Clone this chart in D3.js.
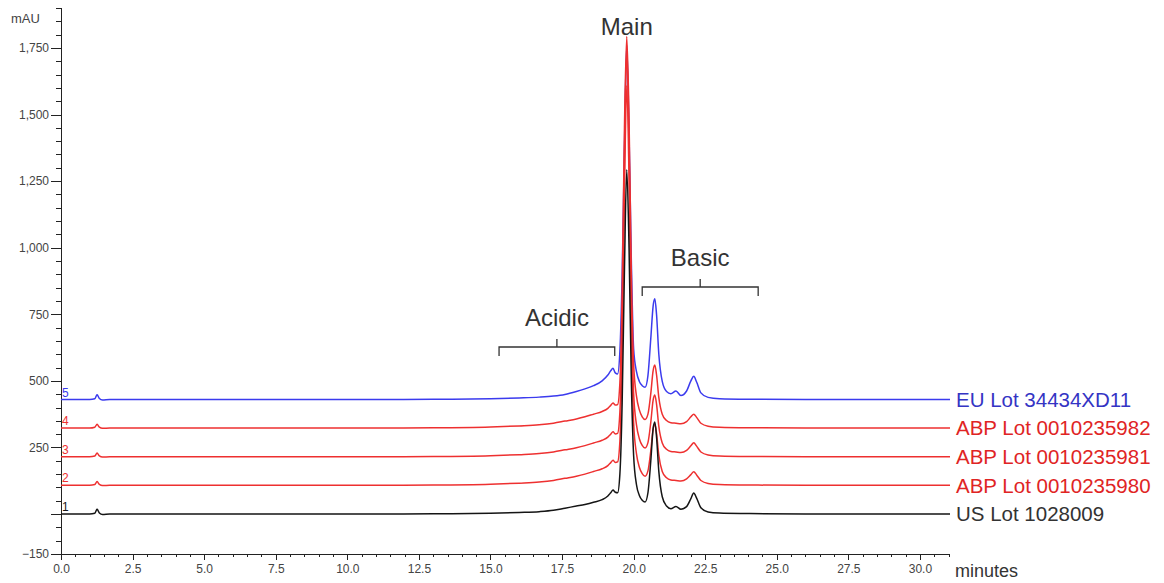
<!DOCTYPE html>
<html lang="en">
<head>
<meta charset="utf-8">
<title>Charge variant overlay</title>
<script src="https://cdn.jsdelivr.net/npm/d3@7"></script>
<style>
body {
  margin: 0;
  background: #fff;
  font-family: Arial, 'Liberation Sans', sans-serif;
}
.axis path, .axis line {
  stroke: #222;
  stroke-width: 1;
  shape-rendering: crispEdges;
}
.axis text {
  font-family: Arial, 'Liberation Sans', sans-serif;
  font-size: 12px;
  fill: #444;
}
.trace {
  fill: none;
  stroke-width: 1.5;
  stroke-linejoin: round;
}
.bracket {
  fill: none;
  stroke: #333;
  stroke-width: 1.3;
}
.note {
  font-size: 24px;
  fill: #333;
  text-anchor: middle;
}
</style>
</head>
<body>
<div id="chart"></div>
<script>

// retention time grid (minutes), denser around the peaks
var minutes = [0, 1.0, 1.18, 1.26, 1.34, 1.45, 1.7, 3, 6, 10, 13, 15, 16, 16.7, 17.2, 17.6,
  18.0, 18.3, 18.6, 18.9, 19.1, 19.2, 19.28, 19.36, 19.44, 19.52, 19.6, 19.68, 19.76, 19.84,
  19.92, 20.0, 20.1, 20.2, 20.3, 20.4, 20.5, 20.6, 20.68, 20.74, 20.8, 20.88, 21.0, 21.15,
  21.3, 21.48, 21.65, 21.85, 22.0, 22.1, 22.2, 22.35, 22.6, 23.0, 24.0, 26.0, 28.0, 31.05];

// signal above each trace's own baseline (mAU)
var usLot = [0, 0, 3, 18, 4, -2, 0, 0, 0, 0, 1, 3, 6, 9, 14, 22,
  30, 36, 44, 54, 68, 80, 90, 82, 80, 150, 420, 920, 1293, 1000,
  500, 220, 110, 70, 52, 45, 80, 200, 320, 346, 290, 160, 65, 30,
  20, 28, 18, 28, 58, 79, 60, 24, 8, 4, 2, 0, 0, 0];
var abp980 = [0, 0, 3, 14, 3, -1, 0, 0, 0, 0, 1, 4, 8, 12, 18, 26,
  34, 42, 52, 62, 74, 85, 94, 86, 88, 165, 500, 1100, 1500, 1150,
  570, 235, 118, 68, 44, 34, 54, 130, 210, 230, 196, 112, 52, 28,
  20, 18, 16, 24, 40, 51, 39, 18, 7, 3, 1, 0, 0, 0];
var abp981 = [0, 0, 3, 14, 3, -1, 0, 0, 0, 0, 1, 4, 8, 12, 18, 26,
  34, 42, 52, 62, 74, 85, 94, 86, 88, 168, 505, 1120, 1520, 1160,
  575, 238, 120, 68, 43, 33, 53, 130, 212, 232, 198, 114, 52, 28,
  20, 18, 16, 24, 41, 53, 40, 18, 7, 3, 1, 0, 0, 0];
var abp982 = [0, 0, 3, 14, 3, -1, 0, 0, 0, 0, 1, 4, 8, 12, 18, 26,
  34, 42, 52, 62, 74, 85, 94, 86, 88, 170, 510, 1130, 1470, 1160,
  580, 240, 120, 68, 42, 32, 52, 130, 215, 237, 200, 115, 52, 28,
  20, 18, 16, 24, 42, 52, 40, 18, 7, 3, 1, 0, 0, 0];
var euLot = [0, 0, 3, 18, 4, -2, 0, 0, 0, 0, 1, 3, 6, 9, 13, 19,
  30, 40, 52, 70, 92, 108, 117, 100, 96, 180, 470, 950, 1330, 1000,
  520, 190, 105, 68, 52, 46, 90, 230, 350, 378, 320, 170, 68, 30,
  22, 32, 15, 32, 70, 87, 66, 25, 8, 3, 1, 0, 0, 0];

var traceNames = ["US Lot 1028009", "ABP Lot 0010235980", "ABP Lot 0010235981",
  "ABP Lot 0010235982", "EU Lot 34434XD11"];
var traceNumbers = ["1", "2", "3", "4", "5"];
var traceOffsets = [0, 108, 215, 323, 430];   // stacked baselines (mAU)
var traceValues = [usLot, abp980, abp981, abp982, euLot];
var traceColors = ["#151515", "#ee3030", "#ee3030", "#ee3030", "#3b3bee"];
var labelColors = ["#333333", "#e02424", "#e02424", "#e02424", "#3434c4"];

var yLabelTicks = [-150, 250, 500, 750, 1000, 1250, 1500, 1750];
var xLabelTicks = [0, 2.5, 5, 7.5, 10, 12.5, 15, 17.5, 20, 22.5, 25, 27.5, 30];

// peak group annotations: [label, start, end] in minutes
var groups = [["Acidic", 15.3, 19.34], ["Basic", 20.3, 24.35]];

var w = 1164,
    h = 583;

var x = d3.scaleLinear().domain([0, 31.05]).range([61, 950]);
var y = d3.scaleLinear().domain([-150, 1900]).range([554, 8]);

var svg = d3.select("#chart")
  .append("svg")
  .attr("width", w)
  .attr("height", h);

// y axis: minor ticks every 50, labelled ticks every 250
svg.append("g")
  .attr("class", "axis")
  .attr("transform", "translate(61,0)")
  .call(d3.axisLeft(y).tickValues(d3.range(-150, 1901, 50)).tickSize(5).tickFormat(""))
  .call(function(g) { g.select(".domain").attr("d", "M0," + y(-150) + "V" + y(1900)); });

svg.append("g")
  .attr("class", "axis")
  .attr("transform", "translate(61,0)")
  .call(d3.axisLeft(y).tickValues(yLabelTicks.concat([0])).tickSize(10).tickPadding(2)
    .tickFormat(function(d) { return d === 0 ? "" : d3.format(",")(d).replace("-", "- "); }))
  .call(function(g) { g.select(".domain").remove(); });

svg.append("text")
  .attr("x", 11)
  .attr("y", 23)
  .style("font-size", "13px")
  .style("fill", "#444")
  .text("mAU");

// x axis
svg.append("g")
  .attr("class", "axis")
  .attr("transform", "translate(0," + y(-150) + ")")
  .call(d3.axisBottom(x).tickValues(d3.range(0, 31.01, 0.5)).tickSize(3).tickFormat(""))
  .call(function(g) { g.select(".domain").attr("d", "M" + x(0) + ",0H" + x(31.05)); });

svg.append("g")
  .attr("class", "axis")
  .attr("transform", "translate(0," + y(-150) + ")")
  .call(d3.axisBottom(x).tickValues(xLabelTicks).tickSize(6).tickPadding(4)
    .tickFormat(d3.format(".1f")))
  .call(function(g) { g.select(".domain").remove(); });

svg.append("text")
  .attr("x", 955)
  .attr("y", 577)
  .style("font-size", "18px")
  .style("fill", "#333")
  .text("minutes");

// traces, drawn blue first so the red and black lines sit on top
var drawOrder = [4, 3, 2, 1, 0];

drawOrder.forEach(function(k) {
  var pts = minutes.map(function(t, i) { return [t, traceValues[k][i] + traceOffsets[k]]; });
  var line = d3.line()
    .x(function(d) { return x(d[0]); })
    .y(function(d) { return y(d[1]); })
    .curve(d3.curveMonotoneX);
  svg.append("path")
    .attr("class", "trace")
    .attr("d", line(pts))
    .style("stroke", traceColors[k]);
});

// trace numbers at the left, names at the right end
svg.selectAll(".traceNumber")
  .data(traceOffsets)
  .enter()
  .append("text")
  .attr("class", "traceNumber")
  .attr("x", 62)
  .attr("y", function(d) { return y(d) - 3; })
  .style("font-size", "12px")
  .style("fill", function(d, i) { return traceColors[i]; })
  .text(function(d, i) { return traceNumbers[i]; });

svg.selectAll(".traceName")
  .data(traceOffsets)
  .enter()
  .append("text")
  .attr("class", "traceName")
  .attr("x", 956)
  .attr("y", function(d) { return y(d); })
  .attr("dy", "0.36em")
  .style("font-size", "20.5px")
  .style("fill", function(d, i) { return labelColors[i]; })
  .text(function(d, i) { return traceNames[i]; });

// annotations
svg.append("text")
  .attr("class", "note")
  .attr("x", x(19.76))
  .attr("y", 35)
  .text("Main");

var bracketY = [347, 287];
groups.forEach(function(gr, i) {
  var x0 = x(gr[1]), x1 = x(gr[2]), xm = (x0 + x1) / 2, by = bracketY[i];
  svg.append("path")
    .attr("class", "bracket")
    .attr("d", "M" + x0 + "," + (by + 9) + "V" + by + "H" + x1 + "V" + (by + 9) +
               "M" + xm + "," + by + "V" + (by - 8));
  svg.append("text")
    .attr("class", "note")
    .attr("x", xm)
    .attr("y", by - 21)
    .text(gr[0]);
});

</script>
</body>
</html>
